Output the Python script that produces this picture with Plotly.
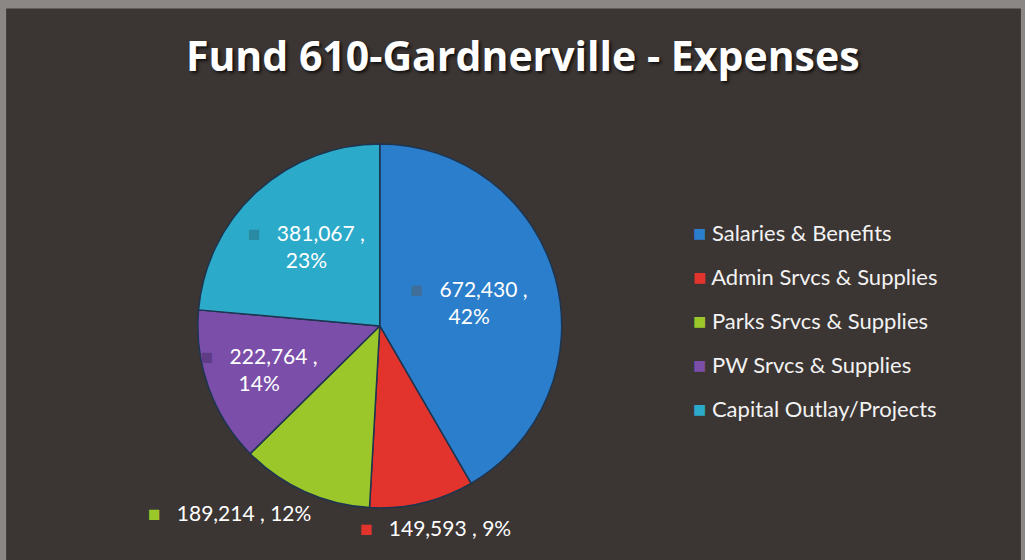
import plotly.graph_objects as go

labels = ["Salaries & Benefits", "Admin Srvcs & Supplies", "Parks Srvcs & Supplies",
          "PW Srvcs & Supplies", "Capital Outlay/Projects"]
values = [672430, 149593, 189214, 222764, 381067]
pct_labels = ["42%", "9%", "12%", "14%", "23%"]
colors = ["#2b7ecb", "#e2342c", "#9cc72b", "#7b4fa9", "#2caac9"]
square_colors = ["#3f6f98", "#e2342c", "#9cc72b", "#5e3b85", "#2a8aa3"]
inside = [True, False, False, True, True]

templates = []
for sc, ins in zip(square_colors, inside):
    if ins:
        templates.append(f"<span style='color:{sc}'>■</span>   %{{value:,}} ,<br>%{{customdata}}")
    else:
        templates.append("")

fig = go.Figure(go.Pie(
    labels=labels,
    values=values,
    customdata=pct_labels,
    texttemplate=templates,
    textposition="inside",
    insidetextorientation="horizontal",
    sort=False,
    direction="clockwise",
    rotation=0,
    marker=dict(colors=colors, line=dict(color="#1d3550", width=1.5)),
    textfont=dict(family="Lato", size=21, color="white"),
    domain=dict(x=[0.193, 0.548], y=[0.093, 0.743]),
    showlegend=False,
    hoverinfo="label+value",
))

# labels that sit outside the pie (Parks, Admin)
outside_pos = {2: (0.142, 1 - 512 / 560), 1: (0.349, 1 - 527 / 560)}
for i, (px, py) in outside_pos.items():
    fig.add_annotation(
        x=px, y=py, xref="paper", yref="paper", xanchor="left", yanchor="middle",
        showarrow=False,
        text=f"<span style='color:{square_colors[i]}'>■</span>   {values[i]:,} , {pct_labels[i]}",
        font=dict(family="Lato", size=21, color="white"),
    )

# legend drawn as text
for i, (lab, c) in enumerate(zip(labels, colors)):
    fig.add_annotation(
        x=0.674, y=1 - (232 + i * 44) / 560, xref="paper", yref="paper",
        xanchor="left", yanchor="middle", showarrow=False,
        text=f"<span style='color:{c}'>■</span> {lab}",
        font=dict(family="Lato", size=22, color="#f2f2f2"),
    )

fig.update_layout(
    width=1025, height=560,
    margin=dict(l=0, r=0, t=0, b=0),
    paper_bgcolor="#8a8784",
    plot_bgcolor="#3b3533",
    title=dict(text="<b>Fund 610-Gardnerville - Expenses</b>", x=0.51, xanchor="center",
               y=1 - 57 / 560, yanchor="middle",
               font=dict(family="Open Sans", size=41, color="white",
                         shadow="2px 2px 3px #111")),
    uniformtext=dict(minsize=21, mode="show"),
    shapes=[dict(type="rect", xref="paper", yref="paper", x0=0.006, x1=0.996, y0=0.0, y1=0.985,
                 fillcolor="#3b3533", line=dict(width=0), layer="below")],
)

fig.write_html("out.html", config={"displayModeBar": False},
               post_script="document.body.style.margin='0';")
